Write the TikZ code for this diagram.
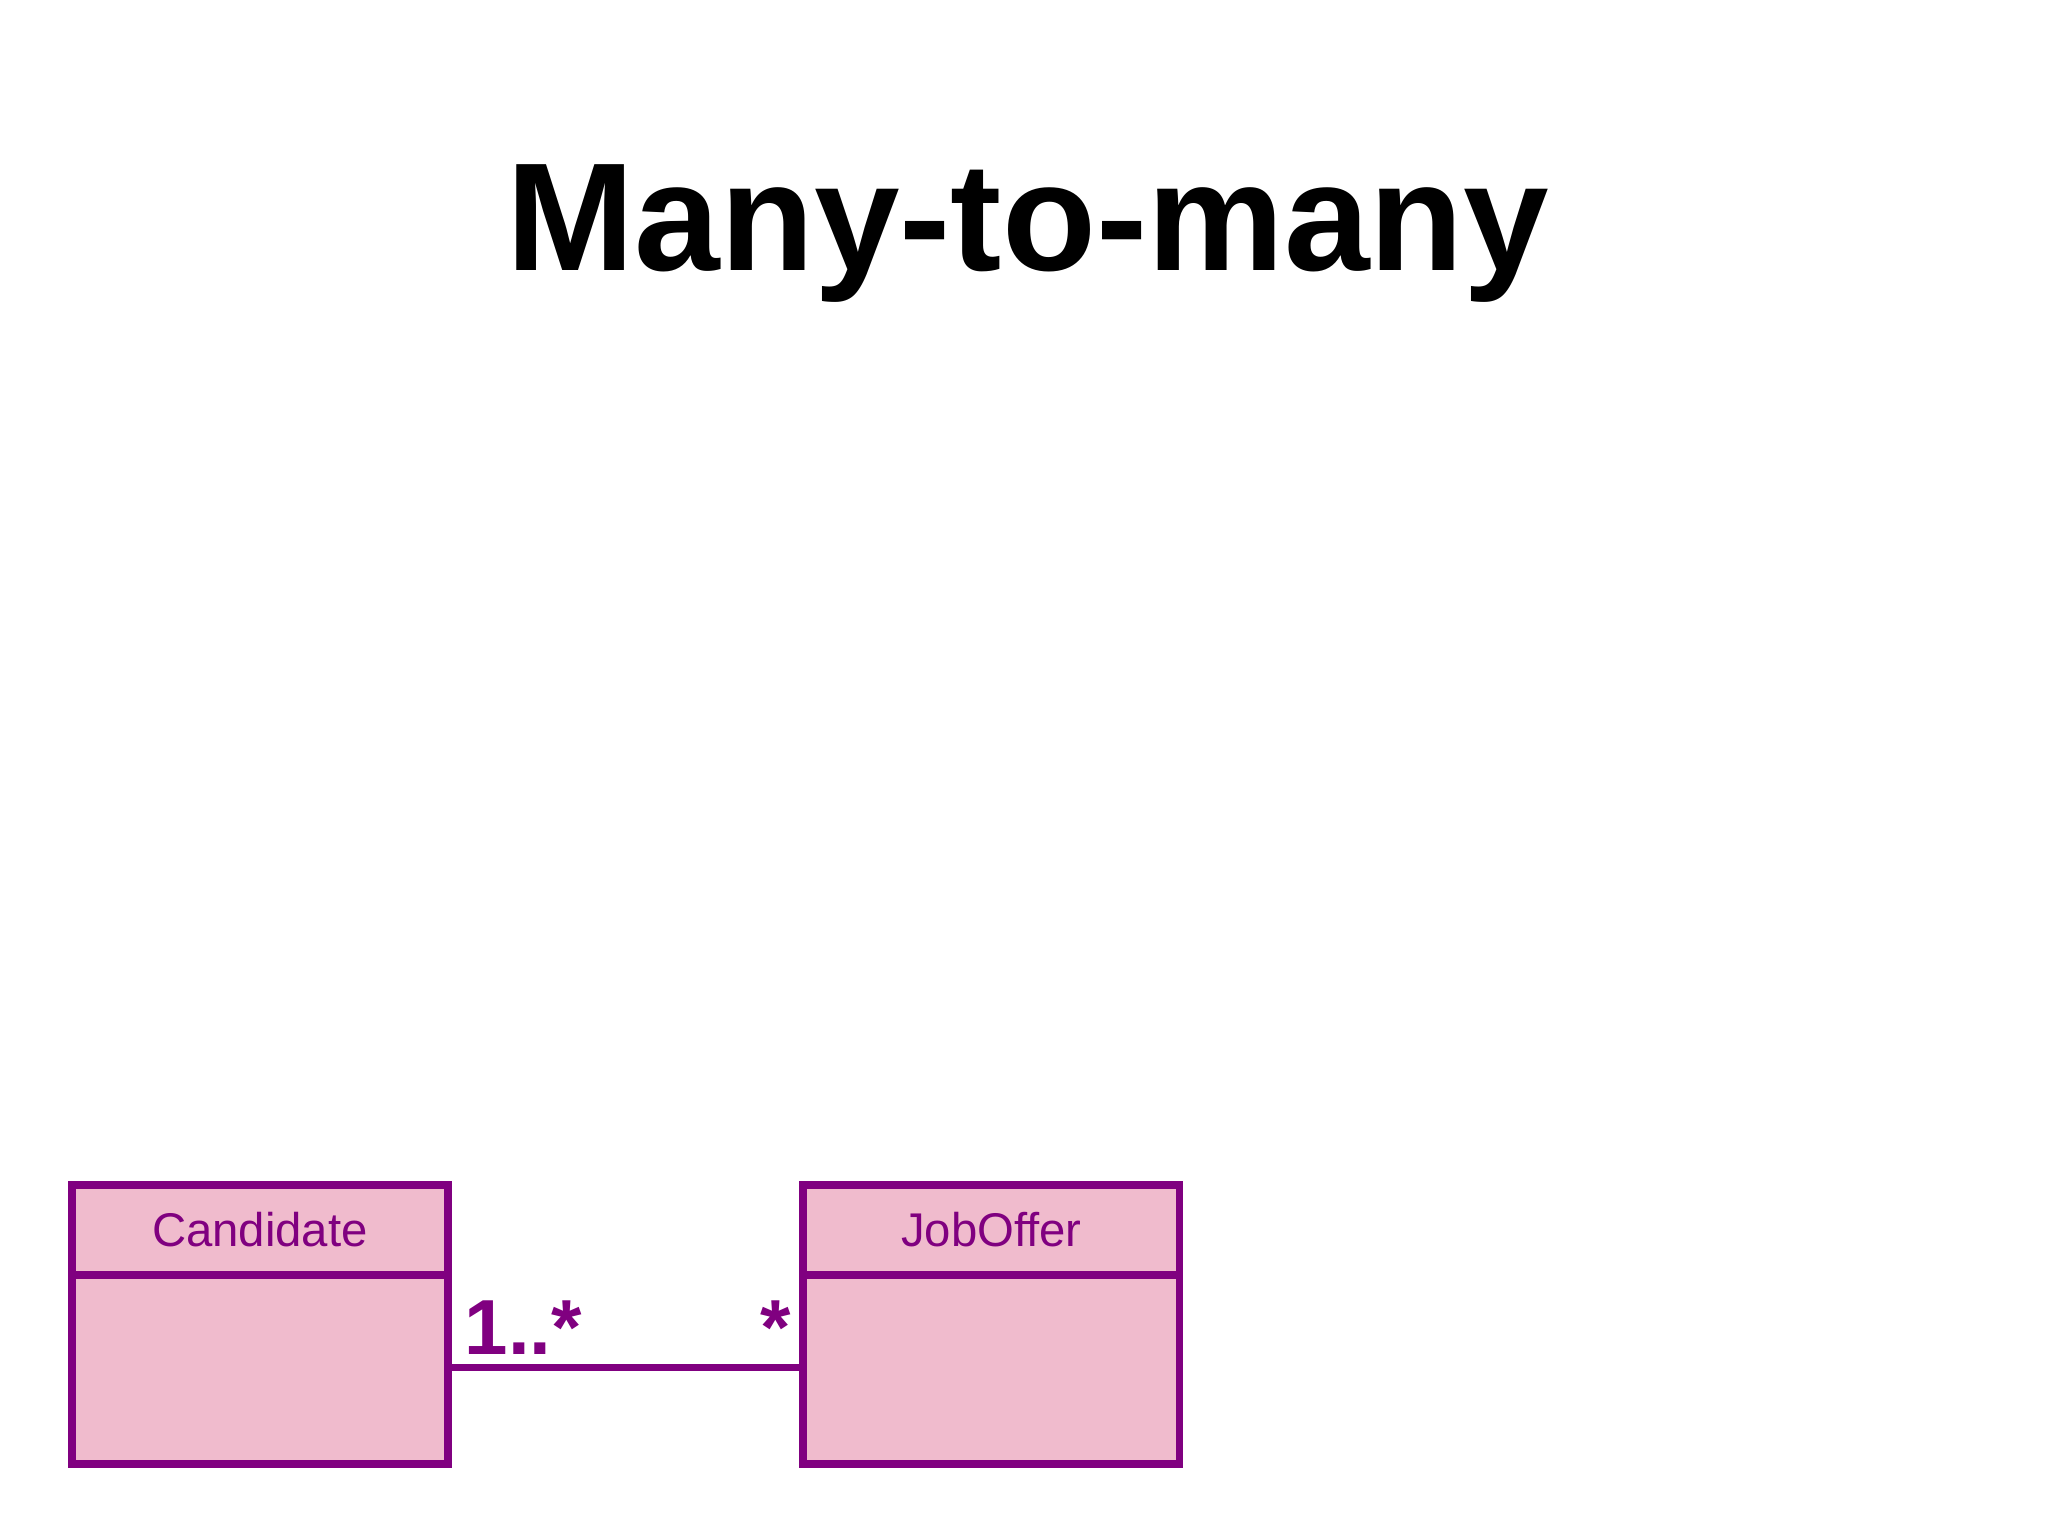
\documentclass[tikz,border=0pt]{standalone}
\usepackage{fontspec}
\setmainfont{Liberation Sans}
\definecolor{umlline}{RGB}{128,0,128}
\definecolor{umlfill}{RGB}{240,187,205}
\begin{document}
\begin{tikzpicture}[x=0.01cm,y=-0.01cm]
	\tikzset{classbox/.style={draw=umlline,fill=umlfill,line width=1.7pt,minimum width=2.88cm,inner sep=0pt},
		mult/.style={text=umlline,font=\fontsize{17}{17}\selectfont\bfseries,inner sep=0pt}}
	\useasboundingbox (0,0) rectangle (1568,1176);
	\node (title) [anchor=base,font=\fontsize{33.5}{34}\selectfont\bfseries] at (787,207) {Many-to-many};
	\node (candhead) [classbox,minimum height=0.69cm,text=umlline,font=\fontsize{10.3}{11}\selectfont] at (199,941.5) {Candidate};
	\node (candbody) [classbox,minimum height=1.45cm] at (199,1048.5) {};
	\node (jobhead) [classbox,minimum height=0.69cm,text=umlline,font=\fontsize{10.3}{11}\selectfont] at (759,941.5) {JobOffer};
	\node (jobbody) [classbox,minimum height=1.45cm] at (759,1048.5) {};
	\coordinate (a) at (343,1047);
	\coordinate (b) at (615,1047);
	\draw [umlline,line width=1.7pt] (a) -- (b);
	\node (m1) [mult,anchor=base west] at (355,1037) {1..*};
	\node (m2) [mult,anchor=base east] at (606,1037) {*};
\end{tikzpicture}
\end{document}
